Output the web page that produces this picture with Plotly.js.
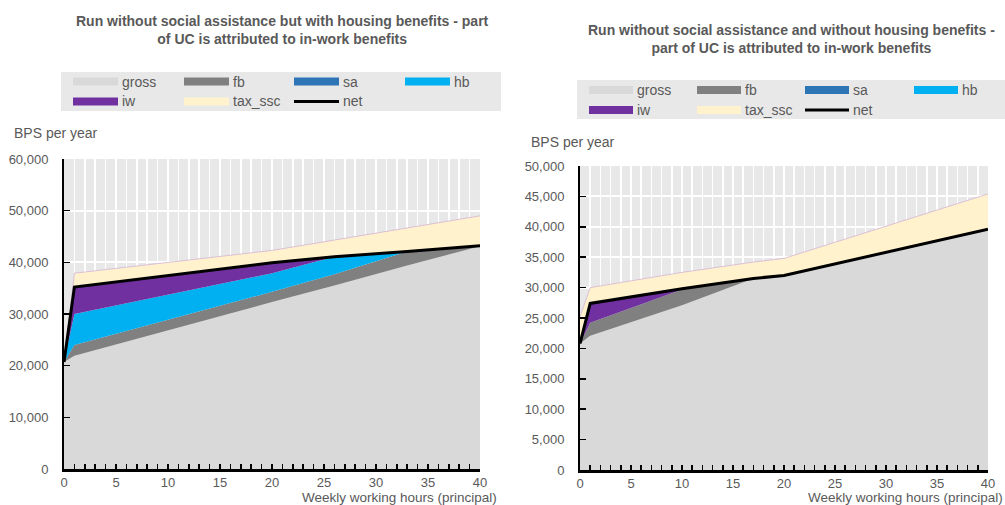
<!DOCTYPE html>
<html>
<head>
<meta charset="utf-8">
<script src="https://cdn.plot.ly/plotly-3.0.1.min.js"></script>
<style>
html,body{margin:0;padding:0;background:#fff;}
#chart{width:1005px;height:505px;}
</style>
</head>
<body>
<div id="chart"></div>
<script>
// ---------- Data ----------
// Left panel: without social assistance but with housing benefits
var hoursL = [0, 1, 20, 26, 33, 40];
var grossL = [20700, 21900, 32300, 35500, 39400, 43100];
var fbL    = [0, 2100, 2000, 2200, 2700, 100];
var saL    = [0, 0, 0, 0, 0, 0];
var hbL    = [0, 6000, 3600, 3400, 0, 0];
var iwL    = [0, 5200, 2000, 0, 0, 0];
var taxL   = [0, 2700, 2400, 3200, 4600, 5800];
var netL   = [20700, 35200, 39900, 41100, 42100, 43200];

// Right panel: without social assistance and without housing benefits
var hoursR = [0, 1, 10, 17, 20, 40];
var grossR = [20800, 22100, 27100, 31500, 32000, 39600];
var fbR    = [0, 2100, 2600, 0, 0, 0];
var saR    = [0, 0, 0, 0, 0, 0];
var hbR    = [0, 0, 0, 0, 0, 0];
var iwR    = [0, 3200, 100, 0, 0, 0];
var taxR   = [4400, 2600, 2700, 2700, 2800, 5800];
var netR   = [20800, 27400, 29800, 31500, 32000, 39600];

var seriesNames = ['gross', 'fb', 'sa', 'hb', 'iw', 'tax_ssc', 'net'];
var titleL = 'Run without social assistance but with housing benefits - part<br>of UC is attributed to in-work benefits';
var titleR = 'Run without social assistance and without housing benefits -<br>part of UC is attributed to in-work benefits';
var yTitle = 'BPS per year';
var xTitle = 'Weekly working hours (principal)';

// ---------- Styling ----------
var colors = {
  gross: '#d9d9d9', fb: '#808080', sa: '#2e75b6', hb: '#00b0f0',
  iw: '#7030a0', tax_ssc: '#fff2cc', net: '#000000'
};
var FONT = '"Liberation Sans Narrow", "Arial Narrow", "Liberation Sans", Arial, sans-serif';
var TXT = '#595959';
var FS = 13;
var W = 1005, H = 505;
function px(x) { return x / W; }
function py(y) { return 1 - y / H; }

function buildTraces(hours, parts, net, xa, ya, grp) {
  var names = ['gross', 'fb', 'sa', 'hb', 'iw', 'tax_ssc'];
  var tr = [];
  names.forEach(function (n, i) {
    tr.push({
      type: 'scatter', mode: 'lines', x: hours, y: parts[i], name: n,
      stackgroup: grp, xaxis: xa, yaxis: ya,
      fillcolor: colors[n],
      line: { width: n === 'tax_ssc' ? 0.8 : 0, color: n === 'tax_ssc' ? '#d4b4d4' : colors[n] },
      showlegend: false, hoverinfo: 'x+y+name'
    });
  });
  tr.push({
    type: 'scatter', mode: 'lines', x: hours, y: net, name: 'net',
    xaxis: xa, yaxis: ya, line: { color: '#000', width: 3 }, showlegend: false
  });
  return tr;
}

var data = []
  .concat(buildTraces(hoursL, [grossL, fbL, saL, hbL, iwL, taxL], netL, 'x', 'y', 'L'))
  .concat(buildTraces(hoursR, [grossR, fbR, saR, hbR, iwR, taxR], netR, 'x2', 'y2', 'R'));

function xAxis(domain, anchor) {
  return {
    domain: domain, anchor: anchor, range: [0, 40], dtick: 5, tick0: 0,
    showgrid: true, gridcolor: '#ffffff', gridwidth: 1.5,
    ticks: 'inside', ticklen: 5, tickwidth: 1.5, tickcolor: '#000',
    showline: true, linecolor: '#000', linewidth: 2.5, zeroline: false,
    tickfont: { family: FONT, size: FS, color: TXT }, ticklabelstandoff: 0,
    minor: { dtick: 1, tick0: 0, showgrid: true, gridcolor: '#ffffff', gridwidth: 1.5,
             ticks: 'inside', ticklen: 5, tickwidth: 1.5, tickcolor: '#000' },
    fixedrange: true
  };
}
function yAxis(domain, anchor, max, dt) {
  return {
    domain: domain, anchor: anchor, range: [0, max], dtick: dt, tick0: 0,
    tickformat: ',d', showgrid: true, gridcolor: '#ffffff', gridwidth: 2,
    ticks: 'inside', ticklen: 6, tickwidth: 1.5, tickcolor: '#000',
    showline: true, linecolor: '#000', linewidth: 2, zeroline: false,
    tickfont: { family: FONT, size: FS, color: TXT }, ticklabelstandoff: 11,
    fixedrange: true
  };
}

// ---------- Custom legends ----------
var shapes = [], annotations = [];
function addLegend(box, cols, rows, swW) {
  shapes.push({ type: 'rect', xref: 'paper', yref: 'paper', layer: 'below',
    x0: px(box[0]), x1: px(box[1]), y0: py(box[3]), y1: py(box[2]),
    fillcolor: '#e8e8e8', line: { width: 0 } });
  seriesNames.forEach(function (n, i) {
    var c = i % 4, r = Math.floor(i / 4);
    var x0 = cols[c], yc = rows[r];
    if (n === 'net') {
      shapes.push({ type: 'line', xref: 'paper', yref: 'paper',
        x0: px(x0), x1: px(x0 + swW), y0: py(yc), y1: py(yc),
        line: { color: '#000', width: 3 } });
    } else {
      shapes.push({ type: 'rect', xref: 'paper', yref: 'paper',
        x0: px(x0), x1: px(x0 + swW), y0: py(yc + 4), y1: py(yc - 4),
        fillcolor: colors[n], line: { width: 0 } });
    }
    annotations.push({ xref: 'paper', yref: 'paper', x: px(x0 + swW + 2), y: py(yc),
      xanchor: 'left', yanchor: 'middle', showarrow: false, text: n,
      font: { family: FONT, size: FS + 1, color: TXT } });
  });
}
addLegend([61, 501, 72, 111], [73, 184, 294, 405], [81.5, 101.5], 45);
addLegend([577, 1005, 80, 119], [589, 697, 805, 914], [90, 110], 44);

// titles
annotations.push({ xref: 'paper', yref: 'paper', x: px(282), y: py(29.5), xanchor: 'center', yanchor: 'middle',
  showarrow: false, text: '<b>' + titleL + '</b>', align: 'center',
  font: { family: FONT, size: 14, color: TXT } });
annotations.push({ xref: 'paper', yref: 'paper', x: px(791), y: py(39), xanchor: 'center', yanchor: 'middle',
  showarrow: false, text: '<b>' + titleR + '</b>', align: 'center',
  font: { family: FONT, size: 14, color: TXT } });
// y titles
annotations.push({ xref: 'paper', yref: 'paper', x: px(12), y: py(133), xanchor: 'left', yanchor: 'middle',
  showarrow: false, text: yTitle, font: { family: FONT, size: FS + 1, color: TXT } });
annotations.push({ xref: 'paper', yref: 'paper', x: px(529), y: py(142), xanchor: 'left', yanchor: 'middle',
  showarrow: false, text: yTitle, font: { family: FONT, size: FS + 1, color: TXT } });
// x titles
annotations.push({ xref: 'paper', yref: 'paper', x: px(499), y: py(497.5), xanchor: 'right', yanchor: 'middle',
  showarrow: false, text: xTitle, font: { family: FONT, size: FS + 0.5, color: TXT } });
annotations.push({ xref: 'paper', yref: 'paper', x: px(1005), y: py(497.5), xanchor: 'right', yanchor: 'middle',
  showarrow: false, text: xTitle, font: { family: FONT, size: FS + 0.5, color: TXT } });

var layout = {
  width: W, height: H,
  margin: { l: 0, r: 0, t: 0, b: 0 },
  paper_bgcolor: '#ffffff', plot_bgcolor: '#e8e8e8',
  showlegend: false,
  xaxis: xAxis([px(64), px(480)], 'y'),
  yaxis: yAxis([py(469), py(159)], 'x', 60000, 10000),
  xaxis2: xAxis([px(580), px(988)], 'y2'),
  yaxis2: yAxis([py(470), py(166)], 'x2', 50000, 5000),
  shapes: shapes,
  annotations: annotations
};

Plotly.newPlot('chart', data, layout, { displayModeBar: false, staticPlot: true });
</script>
</body>
</html>
